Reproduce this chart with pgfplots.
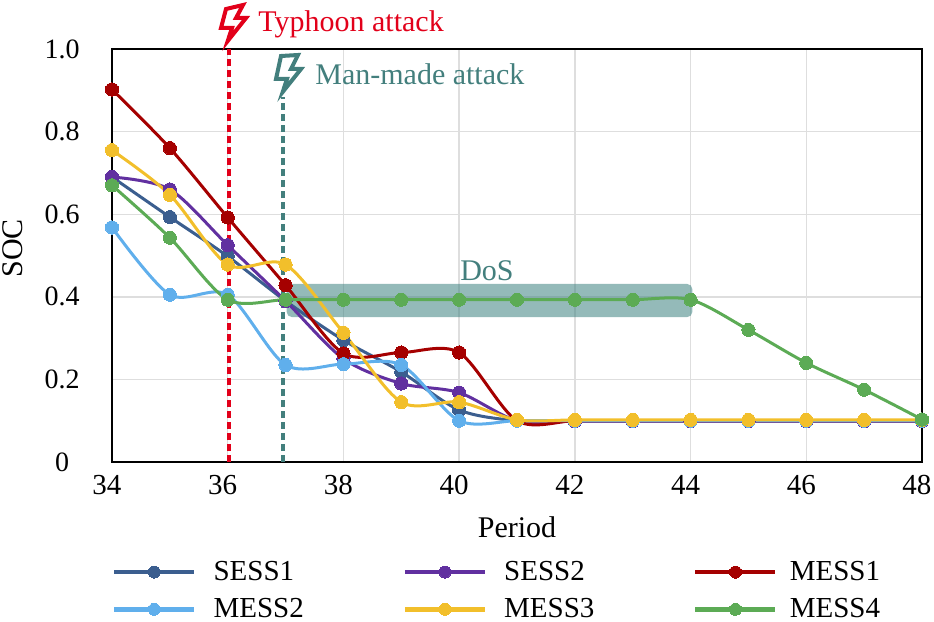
\documentclass[border=0pt]{standalone}
\usepackage{pgfplots}
\pgfplotsset{compat=1.18}
\usepackage{fontspec}
\setmainfont{Liberation Serif}
\definecolor{sessone}{HTML}{3B5E8F}
\definecolor{sesstwo}{HTML}{6130A0}
\definecolor{messone}{HTML}{A50000}
\definecolor{messtwo}{HTML}{60AFEC}
\definecolor{messthree}{HTML}{F2BF2B}
\definecolor{messfour}{HTML}{5CAB55}
\definecolor{dosteal}{HTML}{437F7D}
\definecolor{dosband}{HTML}{3D8280}
\definecolor{attackred}{HTML}{E2001A}
\pgfplotsset{
  soc/.style={color=#1,line width=1.5pt,smooth,tension=0.5,mark=*,
    mark size=3.3pt,mark options={solid,fill=#1,draw=#1,line width=0pt}},
}
\newcommand{\legname}[2][6.5pt]{\makebox[89pt][l]{\hspace*{#1}#2}}
\begin{document}
\begin{tikzpicture}
% one picture pixel is 0.5pt, origin sits at the axis corner (112,462)
\path[use as bounding box] (-56pt,-80pt) rectangle (411pt,231pt);
\begin{axis}[
  width=405pt,height=206.5pt,scale only axis,
  xmin=34,xmax=48,ymin=0,ymax=1,
  xtick={34,36,...,48},
  ytick={0,0.2,0.4,0.6,0.8,1},
  yticklabels={0,0.2,0.4,0.6,0.8,1.0},
  tick style={draw=none},
  grid=major,
  major grid style={draw=black!13,line width=0.7pt},
  axis line style={line width=0.9pt},
  clip=false,
  /pgf/number format/assume math mode=true,
  x tick label style={font=\fontsize{14.5}{17}\selectfont,xshift=-2.5pt,yshift=-3pt},
  y tick label style={font=\fontsize{14}{17}\selectfont,inner sep=0pt,text width=17.5pt,align=center,xshift=-16pt},
  xlabel={Period},ylabel={SOC},
  label style={font=\fontsize{15}{17}\selectfont},
  xlabel style={at={(axis description cs:0.5,0)},anchor=north,yshift=-24pt},
  ylabel style={at={(axis description cs:0,0.517)},anchor=south,yshift=41pt},
  legend columns=3,
  legend cell align=left,
  legend style={at={(0pt,-47.5pt)},anchor=north west,draw=none,fill=none,
    font=\fontsize{14.5}{16}\selectfont,inner sep=0pt,outer sep=0pt,
    /tikz/every even column/.append style={column sep=10pt},
    /tikz/row sep=3.5pt},
  legend image code/.code={
    \draw[#1,line width=2.3pt,mark repeat=2,mark phase=2,mark size=3pt]
      plot coordinates {(0pt,0pt)(20pt,0pt)(40pt,0pt)};},
]
% DoS band and attack markers go under the curves
\fill[dosband,opacity=0.55,rounded corners=2.5pt]
  (axis cs:37.02,0.351) rectangle (axis cs:44.03,0.431);
\addplot[forget plot,attackred,line width=1.8pt,dash pattern=on 3.4pt off 2.1pt]
  coordinates {(36.02,0) (36.02,1)};
\addplot[forget plot,dosteal,line width=1.8pt,dash pattern=on 3.4pt off 2.1pt]
  coordinates {(36.96,0) (36.96,0.884)};

\addplot[soc=sessone] coordinates {
 (34,0.69)(35,0.593)(36,0.498)(37,0.39)(38,0.295)(39,0.218)(40,0.126)(41,0.1)
 (42,0.099)(43,0.099)(44,0.099)(45,0.099)(46,0.099)(47,0.099)(48,0.099)};
\addlegendentry{\legname{SESS1}}
\addplot[soc=sesstwo] coordinates {
 (34,0.69)(35,0.66)(36,0.525)(37,0.39)(38,0.25)(39,0.19)(40,0.168)(41,0.1)
 (42,0.099)(43,0.099)(44,0.099)(45,0.099)(46,0.099)(47,0.099)(48,0.099)};
\addlegendentry{\legname{SESS2}}
\addplot[soc=messone] coordinates {
 (34,0.902)(35,0.76)(36,0.592)(37,0.428)(38,0.263)(39,0.265)(40,0.265)(41,0.1)
 (42,0.1)(43,0.1)(44,0.1)(45,0.1)(46,0.1)(47,0.1)(48,0.1)};
\addlegendentry{\legname[4pt]{MESS1}}
\addplot[soc=messtwo] coordinates {
 (34,0.568)(35,0.405)(36,0.405)(37,0.235)(38,0.237)(39,0.235)(40,0.1)(41,0.1)
 (42,0.1)(43,0.1)(44,0.1)(45,0.1)(46,0.1)(47,0.1)(48,0.1)};
\addlegendentry{\legname{MESS2}}
\addplot[soc=messthree] coordinates {
 (34,0.755)(35,0.647)(36,0.478)(37,0.478)(38,0.313)(39,0.145)(40,0.145)(41,0.102)
 (42,0.102)(43,0.102)(44,0.102)(45,0.102)(46,0.102)(47,0.102)(48,0.102)};
\addlegendentry{\legname{MESS3}}
\addplot[soc=messfour] coordinates {
 (34,0.67)(35,0.543)(36,0.393)(37,0.393)(38,0.393)(39,0.393)(40,0.393)(41,0.393)
 (42,0.393)(43,0.393)(44,0.393)(45,0.32)(46,0.24)(47,0.175)(48,0.103)};
\addlegendentry{\legname[4pt]{MESS4}}
\end{axis}
% annotations in picture pixels
\begin{scope}[shift={(-56pt,231pt)},x=0.5pt,y=-0.5pt]
  \draw[attackred,fill=white,line width=2pt,miter limit=6]
    (226,9)--(243,5)--(236,18)--(246,18)--(227.7,41)--(232,28)--(221,28)--cycle;
  \node[attackred,anchor=west,inner sep=0pt,font=\fontsize{15}{17}\selectfont] at (258,24) {Typhoon attack};
  \draw[dosteal,fill=white,line width=2pt,miter limit=6]
    (281,56)--(298,55)--(291,69)--(301,69)--(282.7,92)--(287,79)--(276,79)--cycle;
  \node[dosteal,anchor=west,inner sep=0pt,font=\fontsize{15}{17}\selectfont] at (315,74) {Man-made attack};
  \node[dosteal,inner sep=0pt,font=\fontsize{15}{17}\selectfont] at (487,271) {DoS};
\end{scope}
\end{tikzpicture}
\end{document}
